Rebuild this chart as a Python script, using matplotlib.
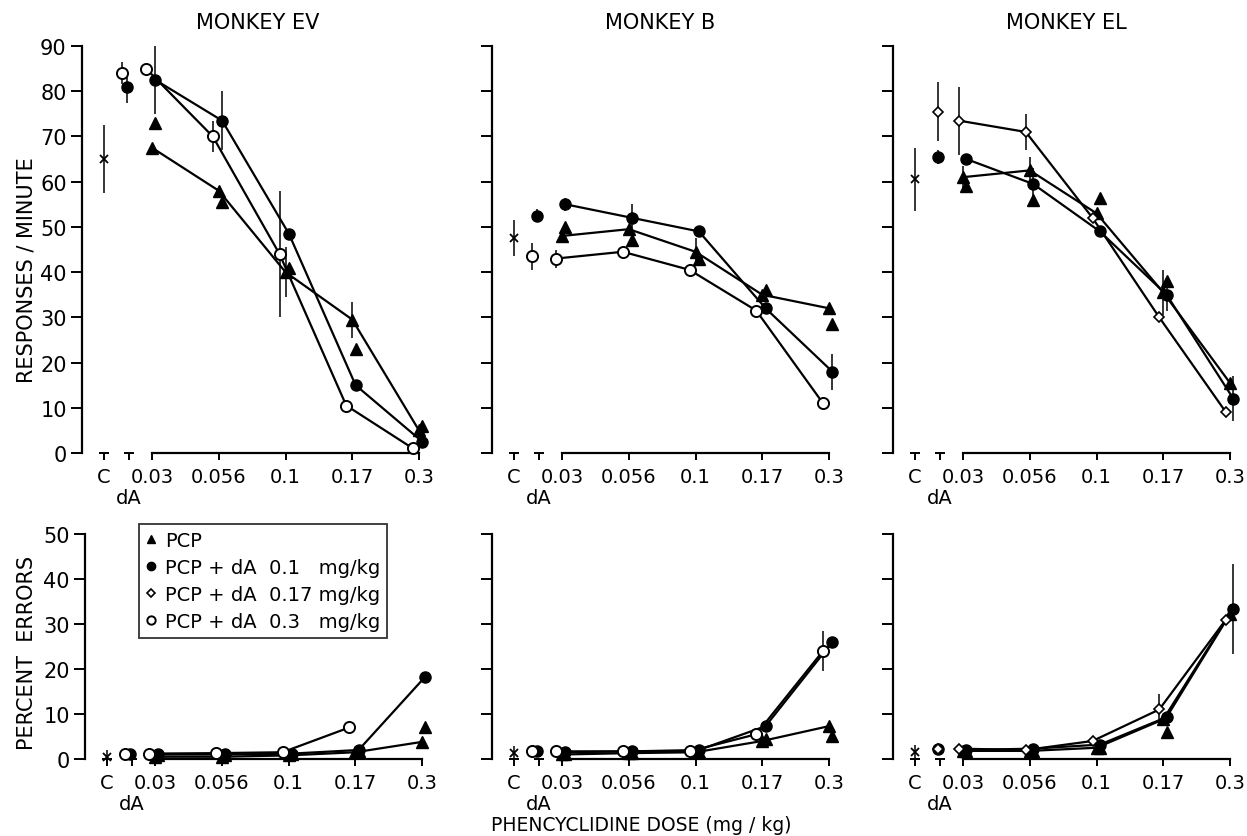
import numpy as np
import matplotlib.pyplot as plt
from matplotlib.lines import Line2D

plt.rcParams['font.family'] = ['DejaVu Sans']

nan = np.nan

monkeys = ['MONKEY EV', 'MONKEY B', 'MONKEY EL']
dose_labels = ['0.03', '0.056', '0.1', '0.17', '0.3']
legend_labels = ['PCP', 'PCP + dA  0.1   mg/kg', 'PCP + dA  0.17 mg/kg', 'PCP + dA  0.3   mg/kg']

# ---- responses / minute ----
ev_rate_ctrl = [65, 7.5]            # value, error
ev_rate_pcp = [67.5, 58, 40, 29.5, 5]
ev_rate_pcp_err = [0, 0, 5.5, 4, 0]
ev_rate_pcp2 = [73, 55.5, 41, 23, 6]
ev_rate_da01 = [82.5, 73.5, 48.5, 15, 2.5]
ev_rate_da01_err = [7.5, 6.5, 0, 0, 0]
ev_rate_da017 = [nan, nan, nan, nan, nan]
ev_rate_da017_err = [0, 0, 0, 0, 0]
ev_rate_da03 = [85, 70, 44, 10.5, 1]
ev_rate_da03_err = [0, 3.5, 14, 0, 0]
ev_rate_alone = [81, nan, 84]       # dA 0.1, 0.17, 0.3 alone
ev_rate_alone_err = [3.5, 0, 2.5]

b_rate_ctrl = [47.5, 4]
b_rate_pcp = [48, 49.5, 44.5, 35, 32]
b_rate_pcp_err = [0, 0, 3, 0, 0]
b_rate_pcp2 = [50, 47, 43, 36, 28.5]
b_rate_da01 = [55, 52, 49, 32, 18]
b_rate_da01_err = [1.5, 3, 0, 0, 4]
b_rate_da017 = [nan, nan, nan, nan, nan]
b_rate_da017_err = [0, 0, 0, 0, 0]
b_rate_da03 = [43, 44.5, 40.5, 31.5, 11]
b_rate_da03_err = [2, 0, 0, 0, 0]
b_rate_alone = [52.5, nan, 43.5]
b_rate_alone_err = [1.5, 0, 3]

el_rate_ctrl = [60.5, 7]
el_rate_pcp = [61, 62.5, 53, 35.5, 15.5]
el_rate_pcp_err = [2.5, 3, 0, 5, 0]
el_rate_pcp2 = [59, 56, 56.5, 38, nan]
el_rate_da01 = [65, 59.5, 49, 35, 12]
el_rate_da01_err = [0, 3.5, 0, 3.5, 5]
el_rate_da017 = [73.5, 71, 52, 30, 9]
el_rate_da017_err = [7.5, 4, 0, 0, 0]
el_rate_da03 = [nan, nan, nan, nan, nan]
el_rate_da03_err = [0, 0, 0, 0, 0]
el_rate_alone = [65.5, 75.5, nan]
el_rate_alone_err = [1.5, 6.5, 0]

# ---- percent errors ----
ev_err_ctrl = [0.5, 1.5]
ev_err_pcp = [0.5, 0.5, 0.8, 1.5, 3.8]
ev_err_pcp_err = [0, 0, 0, 0, 0]
ev_err_pcp2 = [0.8, 0.8, 1, 1.8, 7]
ev_err_da01 = [1, 1, 1.2, 2, 18.3]
ev_err_da01_err = [0, 0, 0, 0, 0]
ev_err_da017 = [nan, nan, nan, nan, nan]
ev_err_da017_err = [0, 0, 0, 0, 0]
ev_err_da03 = [1.2, 1.3, 1.5, 7, nan]
ev_err_da03_err = [0, 0, 0, 0, 0]
ev_err_alone = [1, nan, 1]
ev_err_alone_err = [0, 0, 0]

b_err_ctrl = [1.3, 1.5]
b_err_pcp = [1, 1.3, 1.5, 4, 7.3]
b_err_pcp_err = [0, 0, 0, 0, 0]
b_err_pcp2 = [1, 1.3, 1.5, 4.5, 5]
b_err_da01 = [1.5, 1.7, 2, 7.3, 26]
b_err_da01_err = [0, 0, 0, 0, 0]
b_err_da017 = [nan, nan, nan, nan, nan]
b_err_da017_err = [0, 0, 0, 0, 0]
b_err_da03 = [1.7, 1.7, 1.7, 5.5, 24]
b_err_da03_err = [0, 0, 0, 0, 4.5]
b_err_alone = [1.7, nan, 1.7]
b_err_alone_err = [1, 0, 0]

el_err_ctrl = [1.5, 1.5]
el_err_pcp = [1.8, 1.8, 2.5, 8.8, 32.3]
el_err_pcp_err = [0, 0, 0, 0, 0]
el_err_pcp2 = [1.8, 1.8, 2.5, 6, nan]
el_err_da01 = [2, 2.3, 3.2, 9.3, 33.4]
el_err_da01_err = [0, 0, 0, 0, 10]
el_err_da017 = [2.3, 2, 4, 11, 31]
el_err_da017_err = [0, 0, 0, 3.5, 0]
el_err_da03 = [nan, nan, nan, nan, nan]
el_err_da03_err = [0, 0, 0, 0, 0]
el_err_alone = [2.3, 2.3, nan]
el_err_alone_err = [1, 0, 0]

rate_panels = [
    (ev_rate_ctrl, ev_rate_pcp, ev_rate_pcp_err, ev_rate_pcp2, ev_rate_da01, ev_rate_da01_err,
     ev_rate_da017, ev_rate_da017_err, ev_rate_da03, ev_rate_da03_err, ev_rate_alone, ev_rate_alone_err),
    (b_rate_ctrl, b_rate_pcp, b_rate_pcp_err, b_rate_pcp2, b_rate_da01, b_rate_da01_err,
     b_rate_da017, b_rate_da017_err, b_rate_da03, b_rate_da03_err, b_rate_alone, b_rate_alone_err),
    (el_rate_ctrl, el_rate_pcp, el_rate_pcp_err, el_rate_pcp2, el_rate_da01, el_rate_da01_err,
     el_rate_da017, el_rate_da017_err, el_rate_da03, el_rate_da03_err, el_rate_alone, el_rate_alone_err),
]
err_panels = [
    (ev_err_ctrl, ev_err_pcp, ev_err_pcp_err, ev_err_pcp2, ev_err_da01, ev_err_da01_err,
     ev_err_da017, ev_err_da017_err, ev_err_da03, ev_err_da03_err, ev_err_alone, ev_err_alone_err),
    (b_err_ctrl, b_err_pcp, b_err_pcp_err, b_err_pcp2, b_err_da01, b_err_da01_err,
     b_err_da017, b_err_da017_err, b_err_da03, b_err_da03_err, b_err_alone, b_err_alone_err),
    (el_err_ctrl, el_err_pcp, el_err_pcp_err, el_err_pcp2, el_err_da01, el_err_da01_err,
     el_err_da017, el_err_da017_err, el_err_da03, el_err_da03_err, el_err_alone, el_err_alone_err),
]

# styles
C_X, DA_X = -0.72, -0.35
dose_x = np.arange(len(dose_labels))
LW = 1.6
st_pcp = dict(marker='^', ms=8, mfc='k', mec='k', color='k')
st_da01 = dict(marker='o', ms=8, mfc='k', mec='k', color='k')
st_da017 = dict(marker='D', ms=5, mfc='white', mec='k', mew=1.2, color='k')
st_da03 = dict(marker='o', ms=8, mfc='white', mec='k', mew=1.4, color='k')
off = {'pcp': 0.0, 'pcp2': 0.05, 'da01': 0.05, 'da017': -0.06, 'da03': -0.09}
alone_off = [-0.02, -0.02, -0.1]


def bars(ax, x, y, e):
    y = np.asarray(y, float)
    e = np.asarray(e, float)
    m = (e > 0) & ~np.isnan(y)
    if m.any():
        ax.errorbar(np.asarray(x)[m], y[m], yerr=e[m], fmt='none', ecolor='k',
                    elinewidth=1.1, capsize=0, zorder=2, clip_on=False)


def draw_panel(ax, d, ymax, ystep, show_labels):
    (ctrl, pcp, pcp_e, pcp2, da01, da01_e, da017, da017_e,
     da03, da03_e, alone, alone_e) = d
    # control
    ax.plot([C_X], [ctrl[0]], ls='none', marker='x', ms=6, mew=1.3, color='k', zorder=4, clip_on=False)
    bars(ax, [C_X], [ctrl[0]], [ctrl[1]])
    # dA alone
    for i, (st, v, e) in enumerate(zip([st_da01, st_da017, st_da03], alone, alone_e)):
        if not np.isnan(v):
            ax.plot([DA_X + alone_off[i]], [v], ls='none', zorder=4, clip_on=False, **st)
            bars(ax, [DA_X + alone_off[i]], [v], [e])
    # dose-effect curves
    for key, st, vals, e in [('pcp', st_pcp, pcp, pcp_e), ('da01', st_da01, da01, da01_e),
                             ('da017', st_da017, da017, da017_e), ('da03', st_da03, da03, da03_e)]:
        if np.all(np.isnan(vals)):
            continue
        xs = dose_x + off[key]
        ax.plot(xs, vals, lw=LW, zorder=3, clip_on=False, **st)
        bars(ax, xs, vals, e)
    ax.plot(dose_x + off['pcp2'], pcp2, ls='none', zorder=3, clip_on=False, **st_pcp)

    ax.set_xlim(-1.05, 4.3)
    ax.set_ylim(0, ymax)
    for s in ['top', 'right']:
        ax.spines[s].set_visible(False)
    ax.spines['left'].set_linewidth(1.6)
    ax.spines['bottom'].set_linewidth(1.6)
    ax.spines['left'].set_bounds(0, ymax)
    ax.spines['bottom'].set_bounds(0, 4)
    ax.set_xticks([C_X] + list(dose_x))
    ax.set_xticklabels(['C'] + dose_labels, fontsize=14)
    ax.set_xticks([DA_X], ['dA'], minor=True, fontsize=14)
    ax.tick_params(axis='x', which='major', length=5, width=1.4, pad=5)
    ax.tick_params(axis='x', which='minor', length=5, width=1.4, pad=20)
    ax.set_yticks(np.arange(0, ymax + 1, ystep))
    ax.tick_params(axis='y', length=8, width=1.4, pad=3, labelsize=15)
    if not show_labels:
        ax.set_yticklabels([])
    # small caps on the separate C and dA ticks
    ax.plot([C_X, DA_X], [0, 0], ls='none', marker='_', ms=7, mew=1.4, color='k', clip_on=False)


fig = plt.figure(figsize=(12.47, 8.37), dpi=100)
W = 1247
top_lefts = [82, 492, 893]
bot_lefts = [85, 492, 893]
axw = 357 / W

for i in range(3):
    ax = fig.add_axes([top_lefts[i] / W, 0.4576, axw, 0.4862])
    draw_panel(ax, rate_panels[i], 90, 10, i == 0)
    axb = fig.add_axes([bot_lefts[i] / W, 0.0920, axw, 0.2688])
    draw_panel(axb, err_panels[i], 50, 10, i == 0)
    if i == 0:
        handles = [Line2D([], [], ls='none', **st_pcp), Line2D([], [], ls='none', **st_da01),
                   Line2D([], [], ls='none', **st_da017), Line2D([], [], ls='none', **st_da03)]
        for h in handles:
            h.set_markersize(6 if h.get_marker() != 'D' else 4.5)
        leg = axb.legend(handles, legend_labels, loc='upper left', bbox_to_anchor=(0.15, 1.045),
                         fontsize=14, frameon=True, fancybox=False, handlelength=0.6,
                         handletextpad=0.4, labelspacing=0.42, borderpad=0.35, borderaxespad=0)
        leg.get_frame().set_edgecolor('k')
        leg.get_frame().set_linewidth(1.3)

title_x = [258, 660, 1066]
for t, x in zip(monkeys, title_x):
    fig.text(x / W, 1 - 23 / 837, t, ha='center', va='center', fontsize=15)

fig.text(27 / W, 1 - 270 / 837, 'RESPONSES / MINUTE', rotation=90, ha='center', va='center', fontsize=15)
fig.text(27 / W, 1 - 653 / 837, 'PERCENT  ERRORS', rotation=90, ha='center', va='center', fontsize=15)
fig.text(641 / W, 1 - 826 / 837, 'PHENCYCLIDINE DOSE (mg / kg)', ha='center', va='center', fontsize=13.5)

fig.savefig('out.png', dpi=100, facecolor='white')
